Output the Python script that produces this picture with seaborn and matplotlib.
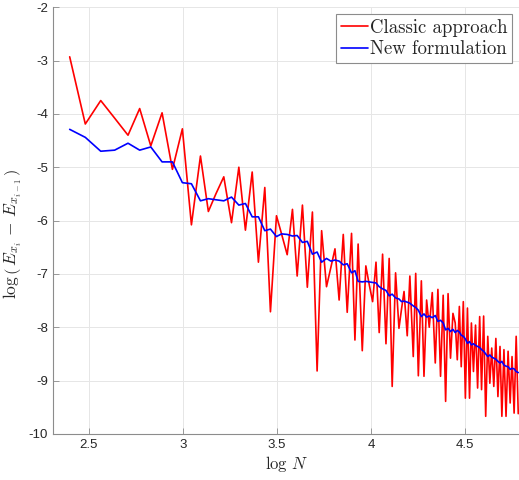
import matplotlib
matplotlib.use("Agg")
import matplotlib.pyplot as plt
import seaborn as sns
import pandas as pd

# ---- data ----
log_n = [
    2.399, 2.482, 2.564, 2.638, 2.709, 2.771, 2.830, 2.890, 2.945, 2.998,
    3.046, 3.094, 3.136, 3.176, 3.218, 3.259, 3.298, 3.333, 3.369, 3.402, 3.436, 3.466,
    3.498, 3.525, 3.555, 3.583, 3.608, 3.636, 3.662, 3.689, 3.714, 3.738, 3.764, 3.787,
    3.809, 3.831, 3.853, 3.874, 3.897, 3.915, 3.932,
    3.954, 3.973, 3.991, 4.009, 4.027, 4.044, 4.062, 4.080, 4.097, 4.113, 4.131, 4.149,
    4.163, 4.176, 4.193, 4.207, 4.225, 4.238, 4.252, 4.268, 4.282, 4.296,
    4.310, 4.326, 4.342, 4.356, 4.370, 4.384, 4.397, 4.410, 4.423, 4.436,
    4.448, 4.459, 4.470, 4.480, 4.491, 4.502, 4.513, 4.524, 4.534, 4.545, 4.556, 4.567,
    4.578, 4.588, 4.599, 4.610, 4.621, 4.632, 4.642, 4.653, 4.664, 4.675, 4.686, 4.696,
    4.707, 4.718, 4.729, 4.740, 4.750, 4.761, 4.772, 4.783,
]

classic = [
    -2.93, -4.19, -3.75, -4.08, -4.40, -3.90, -4.60, -3.98, -5.04, -4.28,
    -6.08, -4.79, -5.83, -5.50, -5.18, -6.04, -5.00, -6.18, -5.09, -6.78, -5.38, -7.71,
    -5.91, -6.25, -6.64, -5.79, -7.04, -5.71, -7.25, -5.84, -8.82, -6.19, -7.24, -6.88,
    -6.53, -7.49, -6.26, -7.72, -6.24, -8.24, -6.44,
    -8.44, -6.85, -7.20, -7.52, -6.78, -8.10, -6.63, -8.31, -6.71, -9.11, -6.98, -8.02,
    -7.65, -7.33, -8.16, -7.04, -8.55, -6.99, -8.91, -7.13, -8.92, -7.49,
    -8.00, -7.35, -8.67, -7.29, -8.92, -7.40, -9.39, -7.37, -8.58, -7.74,
    -7.92, -8.61, -7.61, -8.74, -7.52, -9.33, -7.64, -9.33, -7.92, -8.83, -7.96, -9.14,
    -7.80, -9.17, -7.79, -9.67, -8.17, -9.05, -8.39, -9.11, -8.21, -9.30, -8.36, -9.67,
    -8.42, -9.67, -8.45, -9.42, -8.55, -9.61, -8.17, -9.62,
]

new_form = [
    -4.29, -4.44, -4.70, -4.68, -4.55, -4.68, -4.62, -4.90, -4.90, -5.29,
    -5.31, -5.63, -5.59, -5.61, -5.63, -5.56, -5.71, -5.68, -5.93, -5.93, -6.19, -6.16,
    -6.30, -6.25, -6.26, -6.29, -6.28, -6.41, -6.39, -6.63, -6.59, -6.78, -6.71, -6.76,
    -6.74, -6.76, -6.83, -6.81, -6.98, -6.94, -7.14,
    -7.15, -7.14, -7.15, -7.16, -7.17, -7.24, -7.28, -7.31, -7.41, -7.38, -7.45, -7.47,
    -7.52, -7.51, -7.53, -7.55, -7.60, -7.63, -7.68, -7.80, -7.75, -7.81,
    -7.79, -7.82, -7.78, -7.89, -7.87, -7.92, -8.05, -8.02, -8.08, -8.04,
    -8.10, -8.06, -8.09, -8.15, -8.17, -8.22, -8.30, -8.27, -8.33, -8.31, -8.34, -8.36,
    -8.38, -8.42, -8.45, -8.50, -8.55, -8.52, -8.56, -8.58, -8.60, -8.64, -8.67, -8.64,
    -8.71, -8.73, -8.74, -8.79, -8.77, -8.78, -8.83, -8.85,
]

series_names = ["Classic approach", "New formulation"]
series_colors = ["#ff0000", "#0000ff"]
x_ticks = [2.5, 3, 3.5, 4, 4.5]
x_tick_labels = ["2.5", "3", "3.5", "4", "4.5"]
y_ticks = [-10, -9, -8, -7, -6, -5, -4, -3, -2]
y_tick_labels = ["-10", "-9", "-8", "-7", "-6", "-5", "-4", "-3", "-2"]

df = pd.concat([
    pd.DataFrame({"logN": log_n, "err": classic, "method": series_names[0]}),
    pd.DataFrame({"logN": log_n, "err": new_form, "method": series_names[1]}),
], ignore_index=True)

sns.set_style("white")
plt.rcParams["font.family"] = ["Liberation Sans", "DejaVu Sans"]
plt.rcParams["mathtext.fontset"] = "cm"
plt.rcParams["axes.unicode_minus"] = False

fig = plt.figure(figsize=(5.19, 4.80), dpi=100)
ax = fig.add_axes([0.102, 0.096, 0.898, 0.889])

sns.lineplot(data=df, x="logN", y="err", hue="method", hue_order=series_names,
             palette=dict(zip(series_names, series_colors)), sort=False,
             estimator=None, linewidth=1.2, ax=ax)

ax.set_xlim(2.31, 4.787)
ax.set_ylim(-10, -2)
ax.set_xticks(x_ticks)
ax.set_xticklabels(x_tick_labels)
ax.set_yticks(y_ticks)
ax.set_yticklabels(y_tick_labels)

ax.grid(True, color="#e6e6e6", linewidth=0.7)
ax.set_axisbelow(True)
for side in ["top", "right"]:
    ax.spines[side].set_visible(False)
for side in ["left", "bottom"]:
    ax.spines[side].set_color("#8c8c8c")
    ax.spines[side].set_linewidth(0.8)
ax.tick_params(direction="in", length=4, width=0.6, colors="#8c8c8c",
               labelcolor="#262626", labelsize=9.5, left=True, bottom=True)

ax.set_xlabel(r"$\log\, N$", fontsize=12, color="#262626", labelpad=2)
ax.set_ylabel(r"$\log\left(\,E_{x_i}\,-\,E_{x_{i-1}}\,\right)$", fontsize=12.5,
              color="#262626")
ax.yaxis.set_label_coords(-0.062, 0.47)

leg = ax.legend(loc="upper right", bbox_to_anchor=(0.985, 0.984), frameon=True,
                fancybox=False, edgecolor="#8c8c8c", framealpha=1,
                prop={"family": "cmr10", "size": 13.5}, handlelength=1.45,
                handletextpad=0.1, borderpad=0.25, labelspacing=0.2,
                borderaxespad=0.0)
leg.get_frame().set_linewidth(0.8)

fig.savefig("out.png", dpi=100)
